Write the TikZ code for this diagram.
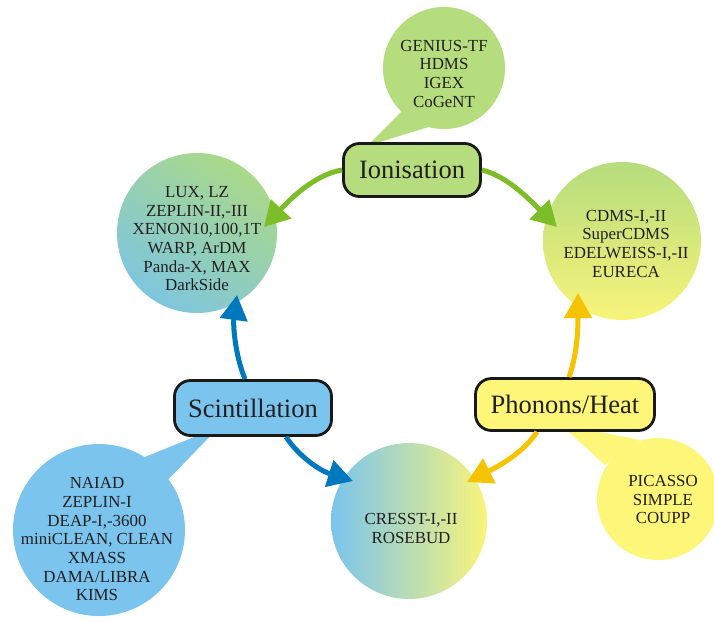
\documentclass[tikz,border=0pt]{standalone}
\usepackage{fontspec}
\setmainfont{Liberation Serif}
\usetikzlibrary{arrows.meta,calc}

\definecolor{gfill}{HTML}{B5DC7D}
\definecolor{garrow}{HTML}{7DBE28}
\definecolor{bfill}{HTML}{7AC4EE}
\definecolor{barrow}{HTML}{0078BE}
\definecolor{yfill}{HTML}{FDF678}
\definecolor{yarrow}{HTML}{F5C300}
\definecolor{luxblue}{HTML}{7EC6DE}
\definecolor{luxgreen}{HTML}{AAD98A}
\definecolor{cyel}{HTML}{F8F47A}
\definecolor{textc}{HTML}{231F20}

\begin{document}
\begin{tikzpicture}[x=1pt,y=-1pt,
  catbox/.style={draw=black!90, line width=2.8pt, rounded corners=16pt, inner sep=0pt,
    font=\fontsize{26.5}{30}\selectfont, text=textc},
  bubble/.style={circle, inner sep=0pt, draw=none},
  listtext/.style={align=center, font=\fontsize{16.9}{18.7}\selectfont, text=textc, inner sep=0pt},
  arr/.style={line width=5pt, -{Triangle[length=25pt,width=27pt]}}
]
\useasboundingbox (0,0) rectangle (714,621);

% callout tails
\fill[gfill] (367,146) -- (408,105) -- (435,125) -- cycle;
\fill[yfill] (560,424) -- (640,440) -- (605,465) -- cycle;
\fill[bfill] (219,427) -- (125,465) -- (160,488) -- cycle;

% bubbles
\node[bubble, minimum size=122pt, fill=gfill] (genius) at (444,68) {};
\node[bubble, minimum size=122pt, fill=yfill] (picasso) at (658,499) {};
\node[bubble, minimum size=172pt, fill=bfill] (naiad) at (99,530) {};
\node[bubble, minimum size=160pt, top color=luxgreen, bottom color=luxblue, shading angle=-35] (lux) at (197,233) {};
\node[bubble, minimum size=158pt, top color=gfill, bottom color=cyel] (cdms) at (622,241) {};
\node[bubble, minimum size=156pt, left color=bfill, right color=cyel] (cresst) at (409,521) {};

% bubble texts
\node[listtext] (geniust) at (444,75.5) {GENIUS-TF\strut\\HDMS\\IGEX\\CoGeNT\strut};
\node[listtext] (luxt) at (197,240.5) {LUX, LZ\strut\\ZEPLIN-II,-III\\XENON10,100,1T\\WARP, ArDM\\Panda-X, MAX\\DarkSide\strut};
\node[listtext] (cdmst) at (626,245.5) {CDMS-I,-II\strut\\SuperCDMS\\EDELWEISS-I,-II\\EURECA\strut};
\node[listtext] (cresstt) at (411,530) {CRESST-I,-II\strut\\ROSEBUD\strut};
\node[listtext] (picassot) at (663,501.5) {PICASSO\strut\\SIMPLE\\COUPP\strut};
\node[listtext] (naiadt) at (97,541) {NAIAD\strut\\ZEPLIN-I\\DEAP-I,-3600\\miniCLEAN, CLEAN\\XMASS\\DAMA/LIBRA\\KIMS\strut};

% category boxes
\node[catbox, fill=gfill, minimum width=137pt, minimum height=53pt] (ion) at (412,170) {Ionisation};
\node[catbox, fill=bfill, minimum width=157pt, minimum height=55pt] (scin) at (253,408) {Scintillation};
\node[catbox, fill=yfill, minimum width=179pt, minimum height=52pt] (phon) at (565,404.5) {Phonons/Heat};

% arrow tips
\coordinate (luxtip) at (264,227);
\coordinate (cdmstip) at (557,227);
\coordinate (cdmstipb) at (578,293);
\coordinate (cresstipy) at (467,482);
\coordinate (luxtipb) at (237,295);
\coordinate (cresstipb) at (353,481);

% arrows
\draw[arr, garrow] (ion.west) .. controls (318,174) and (296,193) .. (luxtip);
\draw[arr, garrow] (ion.east) .. controls (506,176) and (526,196) .. (cdmstip);
\draw[arr, yarrow] ($(phon.north)+(4,0)$) .. controls (577,355) and (578,330) .. (cdmstipb);
\draw[arr, yarrow] ($(phon.south)+(-28,0)$) .. controls (525,450) and (505,463) .. (cresstipy);
\draw[arr, barrow] ($(scin.north)+(-8,0)$) .. controls (235,355) and (233,325) .. (luxtipb);
\draw[arr, barrow] ($(scin.south)+(33,0)$) .. controls (298,455) and (318,470) .. (cresstipb);
\end{tikzpicture}
\end{document}
